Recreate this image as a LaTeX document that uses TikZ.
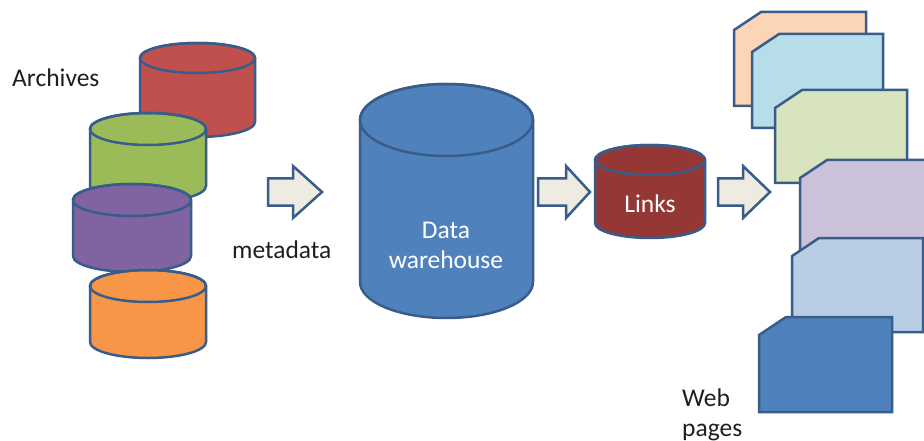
\documentclass[tikz,border=0pt]{standalone}
\usepackage{fontspec}
\setmainfont{Carlito}
\definecolor{edge}{HTML}{385D8A}
\definecolor{arrowfill}{HTML}{EEECE1}
\definecolor{cred}{HTML}{C0504D}
\definecolor{cgreen}{HTML}{9BBB59}
\definecolor{cpurple}{HTML}{8064A2}
\definecolor{corange}{HTML}{F79646}
\definecolor{cblue}{HTML}{4F81BD}
\definecolor{clinks}{HTML}{953735}
\definecolor{ppeach}{HTML}{FBD5B5}
\definecolor{pcyan}{HTML}{B7DEE8}
\definecolor{pgreen}{HTML}{D7E4BD}
\definecolor{plav}{HTML}{CCC1DA}
\definecolor{psteel}{HTML}{B9CDE5}
\definecolor{txt}{HTML}{1F1F1F}
\newcommand{\dbcyl}[6]{% cx, ytop, ybot, rx, ry, colour
  \pgfmathsetmacro\cyltop{#2+#5}%
  \pgfmathsetmacro\cylbot{#3-#5}%
  \filldraw[shapeline, fill=#6] (#1-#4,\cyltop) -- (#1-#4,\cylbot)
    arc[start angle=180,end angle=360,x radius=#4pt,y radius=#5pt]
    -- (#1+#4,\cyltop)
    arc[start angle=0,end angle=180,x radius=#4pt,y radius=#5pt] -- cycle;
  \draw[shapeline] (#1,\cyltop) ellipse[x radius=#4pt,y radius=#5pt];
}
\newcommand{\blockarrow}[4]{% x0, xbase, xtip, yc
  \filldraw[shapeline, fill=arrowfill] (#1,#4-13.5) -- (#2,#4-13.5) -- (#2,#4-26) -- (#3,#4)
    -- (#2,#4+26) -- (#2,#4+13.5) -- (#1,#4+13.5) -- cycle;
}
\newcommand{\webpage}[5]{% x1, y1, x2, y2, colour
  \filldraw[shapeline, fill=#5] (#1,#2+18) -- (#1+27,#2) -- (#3,#2) -- (#3,#4) -- (#1,#4) -- cycle;
}
\tikzset{
  shapeline/.style={draw=edge, line width=2.5pt, line join=miter},
  lbl/.style={inner sep=0pt, text=txt, font=\fontsize{25.5}{30}\selectfont},
  wlbl/.style={lbl, text=white}
}
\begin{document}
\begin{tikzpicture}[x=1pt,y=-1pt]
\useasboundingbox[fill=white] (0,0) rectangle (924,441);
% archives
\dbcyl{197.5}{43}{137}{57.5}{15}{cred}
\dbcyl{148}{113}{202}{58}{16}{cgreen}
\dbcyl{132}{184}{272}{59}{16}{cpurple}
\dbcyl{148}{270}{358}{58}{16}{corange}
% data warehouse
\dbcyl{446.5}{84}{318}{86.5}{36}{cblue}
% links
\dbcyl{650}{145}{238}{55}{15}{clinks}
% arrows
\blockarrow{268}{293}{322}{192}
\blockarrow{538}{566}{590}{192}
\blockarrow{718}{743}{770}{192}
% web pages
\webpage{734}{12}{866}{106}{ppeach}
\webpage{752}{34}{883}{128}{pcyan}
\webpage{775}{90}{907}{183}{pgreen}
\webpage{800}{160}{932}{254}{plav}
\webpage{792}{238}{923}{332}{psteel}
\webpage{759}{317}{892}{412}{cblue}
% labels
\node[lbl, anchor=base west] (archives) at (12,87) {Archives};
\node[lbl, anchor=base west] (metadata) at (232,258) {metadata};
\node[wlbl, anchor=north, align=center] (dw) at (446,221.5) {Data\\warehouse};
\node[wlbl, anchor=base] (links) at (650,212) {Links};
\node[lbl, anchor=north west, align=left] (web) at (682,389) {Web\\pages};
\end{tikzpicture}
\end{document}
